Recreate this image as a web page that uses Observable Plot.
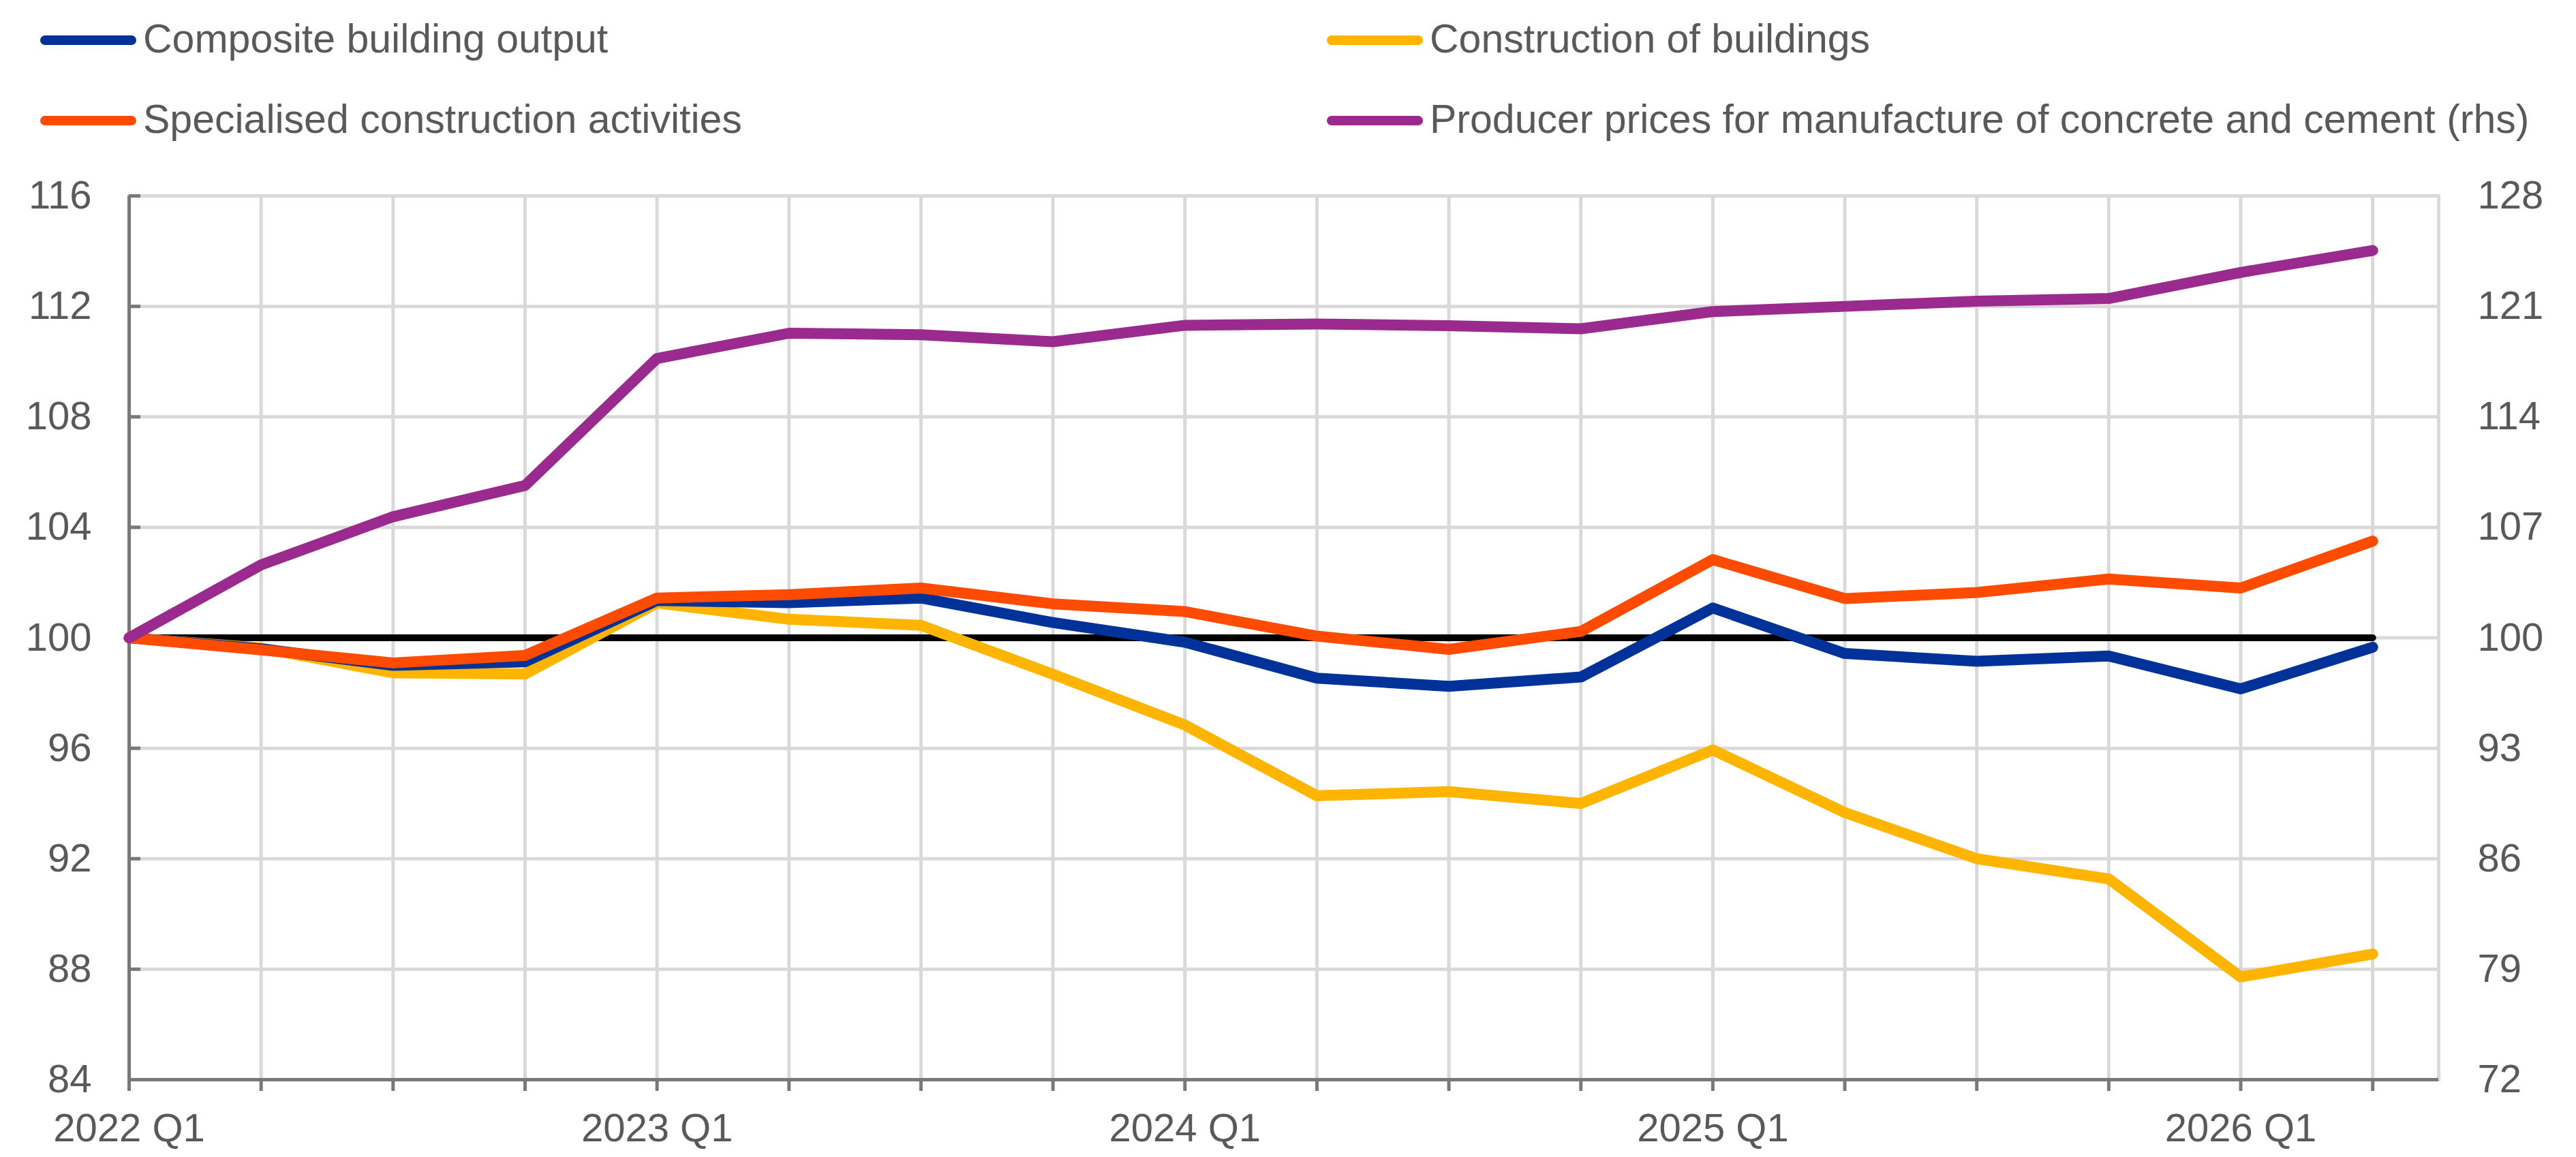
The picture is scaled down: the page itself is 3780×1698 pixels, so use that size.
<!DOCTYPE html>
<html>
<head>
<meta charset="utf-8">
<script src="https://cdn.jsdelivr.net/npm/d3@7"></script>
<script src="https://cdn.jsdelivr.net/npm/@observablehq/plot@0.6"></script>
<style>
html, body { margin: 0; padding: 0; background: #ffffff; }
#wrap { width: 3780px; height: 1698px; position: relative; overflow: hidden; font-family: "Liberation Sans", Arial, sans-serif; color: #595959; }
#legend { position: relative; width: 3780px; height: 230px; }
.sw { position: absolute; width: 141px; height: 14px; border-radius: 7px; }
.lt { position: absolute; font-size: 59px; line-height: 59px; white-space: nowrap; color: #595959; }
#chart svg { display: block; }
</style>
</head>
<body>
<div id="wrap">
  <div id="legend"></div>
  <div id="chart"></div>
</div>
<script>
// ---- Data ----
const quarters = ["2022 Q1","2022 Q2","2022 Q3","2022 Q4","2023 Q1","2023 Q2","2023 Q3","2023 Q4",
  "2024 Q1","2024 Q2","2024 Q3","2024 Q4","2025 Q1","2025 Q2","2025 Q3","2025 Q4","2026 Q1","2026 Q2"];

const compositeBuildingOutput = [100, 99.6, 99.0, 99.13, 101.35, 101.27, 101.44, 100.55, 99.84, 98.54,
  98.24, 98.58, 101.08, 99.43, 99.15, 99.34, 98.15, 99.66];
const constructionOfBuildings = [100, 99.63, 98.73, 98.69, 101.26, 100.67, 100.45, 98.68, 96.84, 94.28,
  94.43, 94.0, 95.94, 93.67, 92.0, 91.27, 87.72, 88.55];
const specialisedConstruction = [100, 99.56, 99.09, 99.36, 101.44, 101.56, 101.8, 101.23, 100.95, 100.06,
  99.58, 100.23, 102.83, 101.42, 101.64, 102.13, 101.8, 103.5];
const producerPricesRhs = [100, 104.62, 107.67, 109.65, 117.7, 119.3, 119.2, 118.76, 119.8, 119.88,
  119.78, 119.58, 120.67, 121.0, 121.33, 121.5, 123.15, 124.54];

const baselineValue = 100;
const leftTicks = [84, 88, 92, 96, 100, 104, 108, 112, 116];
const rightTicks = [72, 79, 86, 93, 100, 107, 114, 121, 128];

const seriesNames = ["Composite building output", "Construction of buildings",
  "Specialised construction activities", "Producer prices for manufacture of concrete and cement (rhs)"];
const seriesColors = ["#003299", "#FFB400", "#FF4B00", "#9B2A8F"];

// ---- Legend (HTML, above the SVG) ----
const legendLayout = [
  {s: 0, left: 59, top: 52},
  {s: 1, left: 1947, top: 52},
  {s: 2, left: 59, top: 170},
  {s: 3, left: 1947, top: 170}
];
const legend = document.getElementById("legend");
for (const item of legendLayout) {
  const sw = document.createElement("div");
  sw.className = "sw";
  sw.style.left = item.left + "px";
  sw.style.top = item.top + "px";
  sw.style.background = seriesColors[item.s];
  legend.appendChild(sw);
  const t = document.createElement("div");
  t.className = "lt";
  t.style.left = (item.left + 151) + "px";
  t.style.top = (item.top - 24) + "px";
  t.textContent = seriesNames[item.s];
  legend.appendChild(t);
}

// ---- Chart ----
const idx = quarters.map((_, i) => i);
const q1idx = idx.filter(i => quarters[i].endsWith("Q1"));
// map rhs values onto lhs scale
const lMin = leftTicks[0], lMax = leftTicks[leftTicks.length - 1];
const rMin = rightTicks[0], rMax = rightTicks[rightTicks.length - 1];
const ratio = (rMax - rMin) / (lMax - lMin);
const toLeft = r => lMin + (r - rMin) / ratio;
const toRight = l => rMin + (l - lMin) * ratio;

const axisGray = "#787878";
const gridGray = "#d9d9d9";
const lineW = 16;
const gridW = 5;

const chart = Plot.plot({
  width: 3780,
  height: 1468,
  marginTop: 57,
  marginBottom: 114,
  marginLeft: 189,
  marginRight: 202,
  style: {
    fontSize: "58px",
    fontFamily: "'Liberation Sans', Arial, sans-serif",
    color: "#595959",
    background: "#ffffff"
  },
  x: {type: "linear", domain: [0, idx.length - 0.5]},
  y: {domain: [lMin, lMax]},
  marks: [
    Plot.frame({stroke: gridGray, strokeWidth: gridW}),
    Plot.gridX(idx, {stroke: gridGray, strokeWidth: gridW, strokeOpacity: 1}),
    Plot.gridY(leftTicks, {stroke: gridGray, strokeWidth: gridW, strokeOpacity: 1}),
    // axis lines
    Plot.ruleX([0], {stroke: axisGray, strokeWidth: gridW}),
    Plot.ruleY([lMin], {stroke: axisGray, strokeWidth: gridW}),
    // bottom tick marks (every quarter)
    Plot.axisX(idx, {tickSize: 17, tickFormat: () => "", stroke: axisGray, strokeWidth: gridW, label: null}),
    // bottom labels (Q1 only)
    Plot.axisX(q1idx, {tickSize: 0, tickPadding: 49, tickFormat: i => quarters[i], fill: "#595959", fontSize: 58, label: null}),
    // left inward ticks
    Plot.axisY(leftTicks, {anchor: "left", tickSize: -17, tickFormat: () => "", stroke: axisGray, strokeWidth: gridW, label: null}),
    // left labels
    Plot.axisY(leftTicks, {anchor: "left", tickSize: 0, tickPadding: 55, fill: "#595959", fontSize: 58, label: null}),
    // right labels (rhs)
    Plot.axisY(rightTicks.map(toLeft), {anchor: "right", tickSize: 0, tickPadding: 57, tickFormat: d => String(Math.round(toRight(d))), fill: "#595959", fontSize: 58, label: null}),
    // baseline at 100
    Plot.line(idx, {x: i => i, y: () => baselineValue, stroke: "#000000", strokeWidth: 10}),
    // series
    Plot.line(idx, {x: i => i, y: i => constructionOfBuildings[i], stroke: seriesColors[1], strokeWidth: lineW, strokeLinecap: "round", strokeLinejoin: "round"}),
    Plot.line(idx, {x: i => i, y: i => compositeBuildingOutput[i], stroke: seriesColors[0], strokeWidth: lineW, strokeLinecap: "round", strokeLinejoin: "round"}),
    Plot.line(idx, {x: i => i, y: i => specialisedConstruction[i], stroke: seriesColors[2], strokeWidth: lineW, strokeLinecap: "round", strokeLinejoin: "round"}),
    Plot.line(idx, {x: i => i, y: i => toLeft(producerPricesRhs[i]), stroke: seriesColors[3], strokeWidth: lineW, strokeLinecap: "round", strokeLinejoin: "round"})
  ]
});
document.getElementById("chart").appendChild(chart);
</script>
</body>
</html>
